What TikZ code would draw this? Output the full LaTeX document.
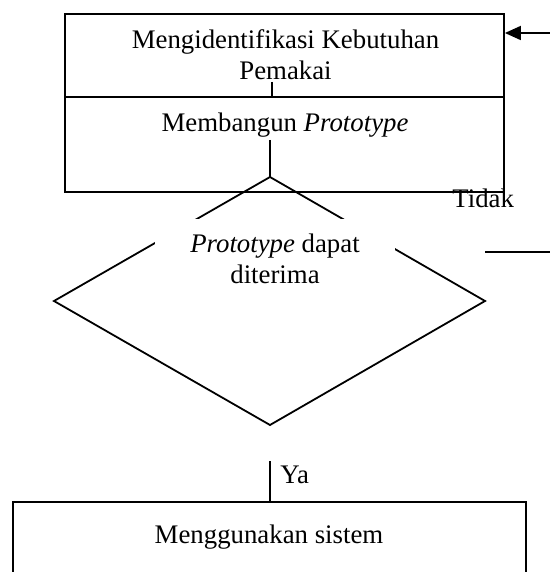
\documentclass[tikz,border=0pt]{standalone}
\usepackage{fontspec}
\setmainfont{Liberation Serif}
\usepackage{tikz}
\usetikzlibrary{arrows.meta}
\usetikzlibrary{positioning}
\tikzset{
  kotak/.style={draw, line width=0.9pt, inner sep=0pt},
  teks/.style={font=\fontsize{13.4}{15.5}\selectfont, inner sep=0pt, align=center},
  garis/.style={line width=0.9pt},
}

\begin{document}
\begin{tikzpicture}[x=0.5pt,y=-0.5pt]
            \useasboundingbox (0,0) rectangle (550,572);
            \node[kotak, minimum width=219.5pt, minimum height=41.5pt] (identifikasi) at (284.5,55.5) {};
            \node[kotak, minimum width=219.5pt, minimum height=47.5pt] (bangun)       at (284.5,144.5) {};
            \node[kotak, minimum width=256.5pt, minimum height=69pt]   (guna)         at (269.5,571) {};
            \coordinate (atas)  at (270,177);
            \coordinate (kiri)  at (54,301);
            \coordinate (bawah) at (270,425);
            \coordinate (kanan) at (485,301);
            \draw[garis] (atas) -- (kiri) -- (bawah) -- (kanan) -- cycle;
            \fill[white] (155,219) rectangle (395,300);
            \node[teks, anchor=base] (tidentifikasi) at (285.5,80)  {Mengidentifikasi Kebutuhan\\Pemakai};
            \node[teks, anchor=base] (tbangun)       at (285,132)   {Membangun \textit{Prototype}};
            \node[teks, anchor=base] (tterima)       at (275,283)   {\textit{Prototype} dapat\\diterima};
            \node[teks, anchor=base] (tguna)         at (269,543)   {Menggunakan sistem};
            \node[teks, anchor=base west] (tidak)    at (452,207)   {Tidak};
            \node[teks, anchor=base west] (ya)       at (280,483)   {Ya};
            \coordinate (p1) at (272,82);
            \coordinate (p2) at (270,140);
            \coordinate (p3) at (270,461);
            \coordinate (t1) at (485,252);
            \coordinate (t2) at (550,252);
            \coordinate (k1) at (550,33);
            \draw[garis] (p1) -- (p1 |- bangun.north);
            \draw[garis] (p2) -- (atas);
            \draw[garis] (p3) -- (p3 |- guna.north);
            \draw[garis] (t1) -- (t2);
            \draw[garis, -{Triangle[length=8pt,width=7pt]}] (k1) -- (k1 -| identifikasi.east);
        \end{tikzpicture}
\end{document}
